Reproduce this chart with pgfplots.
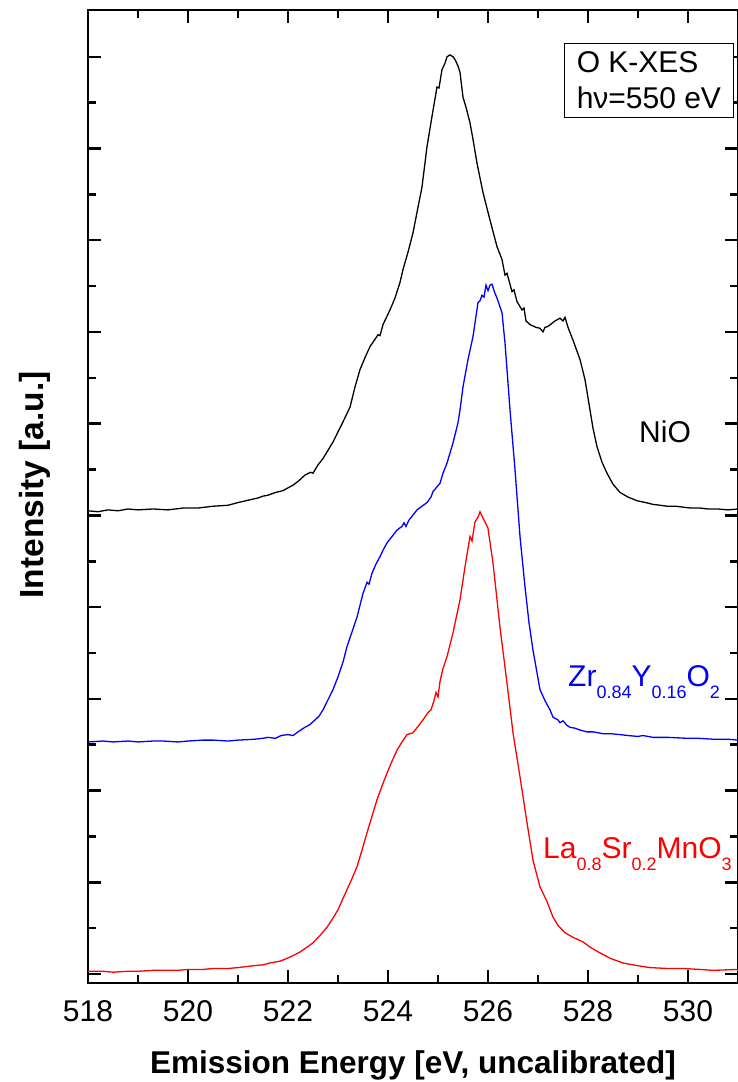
\documentclass[border=0pt]{standalone}
\usepackage{fontspec}
\setmainfont{Liberation Sans}
\usepackage{pgfplots}
\pgfplotsset{compat=1.18}
\newcommand{\sub}[1]{\raisebox{-0.37em}{\fontsize{18}{18}\selectfont #1}}
\begin{document}
\begin{tikzpicture}
\begin{axis}[
  scale only axis,
  width=650pt, height=973pt,
  xmin=518, xmax=531,
  ymin=-0.098, ymax=10.51,
  xtick={518,520,...,530},
  minor x tick num=1,
  ytick={0,1,...,10},
  minor y tick num=1,
  yticklabels={},
  tick align=inside,
  xtick pos=both, ytick pos=both,
  major tick length=13pt,
  minor tick length=8pt,
  every tick/.style={black, line width=2.5pt},
  axis line style={line width=2.5pt},
  /pgf/number format/assume math mode=true,
  /pgf/number format/1000 sep={},
  xticklabel style={font=\fontsize{30}{36}\selectfont, anchor=base, yshift=-38pt},
  xlabel={Emission Energy [eV, uncalibrated]},
  xlabel style={font=\fontsize{31.5}{38}\selectfont\bfseries, at={(axis description cs:0.5,0)}, anchor=base, yshift=-90pt},
  ylabel={Intensity [a.u.]},
  ylabel style={font=\fontsize{33.5}{40}\selectfont\bfseries, at={(axis description cs:-0.069,0.512)}, anchor=base},
]
% NiO
\addplot[black, line width=1.3pt] coordinates {
(518.0,5.05)(518.2,5.04)(518.4,5.06)(518.6,5.05)(518.8,5.07)(519.0,5.06)(519.3,5.07)(519.6,5.06)(519.9,5.08)(520.2,5.08)(520.5,5.10)(520.8,5.11)(521.0,5.14)(521.24,5.17)(521.4,5.19)(521.5,5.21)(521.6,5.22)(521.75,5.25)(521.9,5.27)(522.0,5.30)(522.1,5.33)(522.2,5.37)(522.34,5.44)(522.45,5.47)(522.5,5.46)(522.6,5.55)(522.7,5.62)(522.8,5.71)(522.9,5.80)(523.0,5.91)(523.1,6.02)(523.24,6.18)(523.34,6.40)(523.44,6.59)(523.54,6.72)(523.64,6.84)(523.74,6.92)(523.8,6.97)(523.84,6.96)(523.9,7.08)(524.04,7.24)(524.14,7.37)(524.24,7.54)(524.3,7.68)(524.4,7.87)(524.5,8.08)(524.6,8.36)(524.68,8.58)(524.78,9.02)(524.88,9.35)(524.98,9.67)(525.02,9.66)(525.08,9.86)(525.14,9.93)(525.18,10.00)(525.24,10.02)(525.3,10.00)(525.34,9.97)(525.4,9.90)(525.44,9.83)(525.5,9.56)(525.56,9.45)(525.64,9.28)(525.7,9.10)(525.78,8.84)(525.9,8.52)(526.04,8.22)(526.18,7.93)(526.28,7.79)(526.34,7.62)(526.38,7.64)(526.48,7.44)(526.52,7.46)(526.58,7.33)(526.68,7.24)(526.72,7.26)(526.76,7.12)(526.84,7.08)(526.96,7.05)(527.04,7.04)(527.1,7.00)(527.14,7.05)(527.2,7.06)(527.34,7.12)(527.44,7.15)(527.5,7.12)(527.54,7.16)(527.6,7.05)(527.7,6.91)(527.84,6.70)(527.94,6.48)(528.04,6.15)(528.1,5.95)(528.18,5.75)(528.28,5.58)(528.38,5.46)(528.5,5.34)(528.64,5.25)(528.8,5.20)(528.98,5.16)(529.15,5.14)(529.3,5.12)(529.45,5.11)(529.58,5.10)(529.75,5.10)(529.9,5.09)(530.05,5.08)(530.24,5.08)(530.4,5.07)(530.6,5.07)(530.8,5.06)(531.0,5.07)
};
% Zr0.84Y0.16O2
\addplot[blue, line width=1.3pt] coordinates {
(518.0,2.53)(518.3,2.54)(518.5,2.53)(518.8,2.54)(519.0,2.53)(519.3,2.54)(519.5,2.54)(519.8,2.53)(520.0,2.54)(520.3,2.55)(520.5,2.55)(520.8,2.54)(521.0,2.55)(521.34,2.56)(521.5,2.57)(521.6,2.58)(521.75,2.57)(521.86,2.60)(522.0,2.61)(522.1,2.60)(522.2,2.64)(522.34,2.69)(522.44,2.72)(522.54,2.77)(522.62,2.81)(522.7,2.88)(522.8,2.99)(522.9,3.10)(523.0,3.24)(523.1,3.40)(523.18,3.57)(523.28,3.73)(523.38,3.89)(523.44,4.02)(523.5,4.15)(523.58,4.27)(523.62,4.25)(523.68,4.37)(523.76,4.47)(523.84,4.55)(523.9,4.62)(523.98,4.70)(524.08,4.77)(524.18,4.84)(524.28,4.88)(524.32,4.92)(524.36,4.88)(524.42,4.95)(524.48,4.99)(524.58,5.06)(524.68,5.10)(524.78,5.14)(524.86,5.20)(524.9,5.26)(525.04,5.35)(525.1,5.46)(525.18,5.57)(525.3,5.79)(525.4,6.01)(525.44,6.15)(525.5,6.40)(525.6,6.70)(525.7,6.95)(525.8,7.32)(525.84,7.34)(525.88,7.40)(525.92,7.38)(525.96,7.51)(526.0,7.45)(526.04,7.51)(526.08,7.52)(526.14,7.42)(526.18,7.37)(526.28,7.21)(526.34,6.88)(526.44,6.15)(526.54,5.50)(526.64,4.77)(526.74,4.22)(526.82,3.83)(526.9,3.53)(527.04,3.10)(527.14,2.98)(527.24,2.88)(527.3,2.80)(527.4,2.77)(527.44,2.74)(527.5,2.76)(527.58,2.71)(527.64,2.69)(527.74,2.68)(527.84,2.66)(527.98,2.64)(528.1,2.64)(528.3,2.62)(528.45,2.62)(528.64,2.61)(528.8,2.60)(529.0,2.59)(529.1,2.60)(529.3,2.58)(529.6,2.58)(529.98,2.57)(530.2,2.57)(530.5,2.56)(530.8,2.56)(531.0,2.55)
};
% La0.8Sr0.2MnO3
\addplot[red, line width=1.3pt] coordinates {
(518.0,0.03)(518.3,0.03)(518.5,0.02)(518.8,0.03)(519.0,0.03)(519.3,0.04)(519.5,0.04)(519.8,0.04)(520.0,0.05)(520.3,0.05)(520.5,0.06)(520.8,0.06)(521.0,0.07)(521.3,0.09)(521.5,0.10)(521.64,0.12)(521.84,0.14)(521.98,0.17)(522.1,0.20)(522.24,0.24)(522.4,0.30)(522.5,0.34)(522.64,0.42)(522.78,0.51)(522.9,0.61)(523.0,0.70)(523.08,0.80)(523.18,0.92)(523.28,1.04)(523.38,1.17)(523.48,1.35)(523.58,1.54)(523.68,1.72)(523.78,1.90)(523.88,2.05)(523.98,2.19)(524.08,2.32)(524.18,2.44)(524.28,2.53)(524.38,2.61)(524.44,2.62)(524.5,2.63)(524.6,2.70)(524.7,2.77)(524.8,2.85)(524.86,2.88)(524.92,2.98)(524.96,3.07)(525.0,3.02)(525.04,3.19)(525.1,3.33)(525.18,3.46)(525.3,3.72)(525.44,4.08)(525.54,4.44)(525.64,4.77)(525.68,4.72)(525.74,4.93)(525.8,4.98)(525.84,5.04)(525.9,4.97)(525.94,4.93)(526.0,4.86)(526.1,4.48)(526.24,3.78)(526.38,3.17)(526.5,2.63)(526.64,2.15)(526.78,1.65)(526.9,1.24)(527.04,0.95)(527.18,0.79)(527.3,0.62)(527.4,0.53)(527.54,0.45)(527.7,0.40)(527.9,0.35)(528.05,0.29)(528.24,0.23)(528.45,0.17)(528.7,0.12)(529.0,0.09)(529.24,0.07)(529.6,0.06)(529.9,0.06)(530.24,0.05)(530.5,0.04)(531.0,0.05)
};
\node[anchor=base west, inner sep=0pt, font=\fontsize{30}{36}\selectfont] at (axis cs:529.02,5.79) {NiO};
\node[anchor=base west, inner sep=0pt, text=blue, font=\fontsize{30}{36}\selectfont] at (axis cs:527.6,3.13) {Zr\sub{0.84}Y\sub{0.16}O\sub{2}};
\node[anchor=base west, inner sep=0pt, text=red, font=\fontsize{30}{36}\selectfont] at (axis cs:527.1,1.254) {La\sub{0.8}Sr\sub{0.2}MnO\sub{3}};
\node[anchor=north west, draw=black, line width=0.8pt, fill=white, inner xsep=3pt, inner ysep=8.5pt, minimum width=169pt, align=left, font=\fontsize{30}{36}\selectfont] at (axis cs:527.52,10.153) {O K-XES\\hν=550 eV};
\end{axis}
\pgfresetboundingbox
\path ([shift={(-88pt,-99pt)}]current axis.south west) rectangle ([shift={(0pt,10pt)}]current axis.north east);
\end{tikzpicture}
\end{document}
